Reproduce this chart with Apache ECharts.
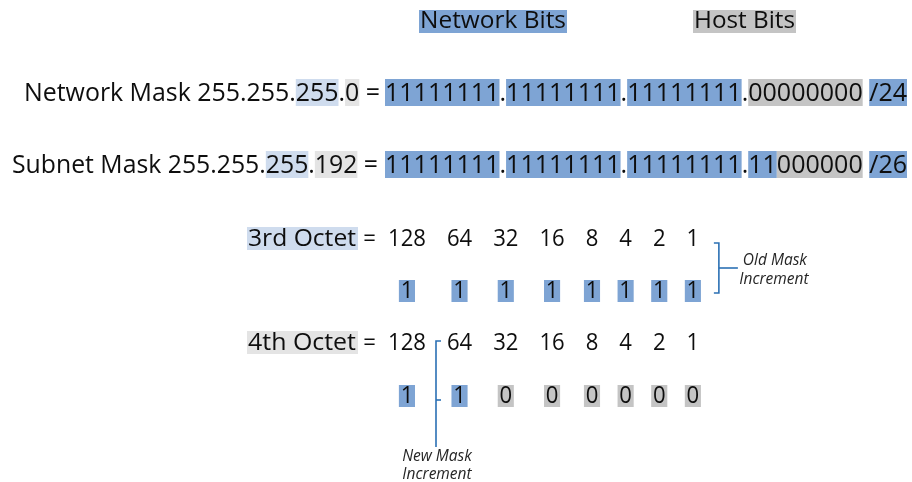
<!DOCTYPE html>
<html><head><meta charset="utf-8">
<script src="https://cdn.jsdelivr.net/npm/echarts@6/dist/echarts.min.js"></script>
<style>html,body{margin:0;padding:0;background:#fff}#c{width:912px;height:482px}</style>
</head><body><div id="c"></div>
<script>
// ---- data ----
const legendLabels = ['Network Bits', 'Host Bits'];
const maskNames = ['Network Mask', 'Subnet Mask'];
const networkMaskOctets = [255, 255, 255, 0];
const subnetMaskOctets = [255, 255, 255, 192];
const maskPrefixes = [24, 26];
const octetNames = ['3rd Octet', '4th Octet'];
const bitWeights = [128, 64, 32, 16, 8, 4, 2, 1];
const thirdOctetBits = [1, 1, 1, 1, 1, 1, 1, 1];
const fourthOctetBits = [1, 1, 0, 0, 0, 0, 0, 0];
const oldMaskNote = ['Old Mask', 'Increment'];
const newMaskNote = ['New Mask', 'Increment'];

// ---- styles ----
const C = {blue:'#7ea4d4', gray:'#c4c4c4', lblue:'#cfdcee', lgray:'#e4e4e4', ink:'#0e0e0e', line:'#2b70b4', note:'#262626'};
const FONT = '"Open Sans", "Noto Sans", sans-serif';
const ctx = document.createElement('canvas').getContext('2d');
function fontStr(size, st){ return (st ? st + ' ' : '') + size + 'px ' + FONT; }
function tw(t, size, st){ ctx.font = fontStr(size, st); return ctx.measureText(t).width; }

const els = [];
function addRect(x, y, w, h, fill){
  els.push({type:'rect', z:1, shape:{x:x, y:y, width:w, height:h}, style:{fill:fill}});
}
function addText(t, x, y, size, o){
  o = o || {};
  els.push({type:'text', z:2, x:x, y:y, scaleX:o.sx || 1,
    style:{text:t, font:fontStr(size, o.st), fill:o.fill || C.ink,
      textAlign:o.align || 'left', textVerticalAlign:'middle',
      align:o.align || 'left', verticalAlign:'middle'}});
}
function addLine(points, w){
  els.push({type:'polyline', z:3, shape:{points:points}, style:{stroke:C.line, lineWidth:w || 1.6, fill:null}});
}
// draw a row of segments fitted between x0 and x1
function drawSegs(segs, x0, x1, cy, size, boxUp, boxH){
  const ws = segs.map(s => tw(s.t, size));
  const W = ws.reduce((a, b) => a + b, 0);
  const s = (x1 - x0) / W;
  let cum = 0;
  segs.forEach((sg, i) => {
    const x = x0 + cum * s;
    if (sg.bg) addRect(x, cy - boxUp, ws[i] * s, boxH, sg.bg);
    addText(sg.t, x, cy, size, {sx:s});
    cum += ws[i];
  });
}
function maskLabelSegs(name, oct){
  return [{t:name + ' ' + oct[0] + '.' + oct[1] + '.'}, {t:String(oct[2]), bg:C.lblue},
          {t:'.'}, {t:String(oct[3]), bg:C.lgray}, {t:' ='}];
}
function binarySegs(oct, prefix){
  const segs = [];
  oct.forEach((o, k) => {
    if (k) segs.push({t:'.'});
    const bits = o.toString(2).padStart(8, '0');
    let run = '', runNet = null;
    for (let i = 0; i < 8; i++) {
      const net = (k * 8 + i) < prefix;
      if (runNet !== null && net !== runNet) { segs.push({t:run, bg:runNet ? C.blue : C.gray}); run = ''; }
      run += bits[i]; runNet = net;
    }
    segs.push({t:run, bg:runNet ? C.blue : C.gray});
  });
  segs.push({t:' '});
  segs.push({t:'/' + prefix, bg:C.blue});
  return segs;
}

// ---- legend (title row) ----
[[legendLabels[0], 419, 567, C.blue], [legendLabels[1], 693, 796, C.gray]].forEach(([t, a, b, bg]) => {
  addRect(a, 10, b - a, 23, bg);
  drawSegs([{t:t}], a + 1, b - 1, 21.5, 23, 0, 0);
});

// ---- mask rows ----
const maskRows = [
  {oct:networkMaskOctets, lx0:24, lx1:380, cy:94},
  {oct:subnetMaskOctets, lx0:12, lx1:378, cy:166}
];
maskRows.forEach((r, i) => {
  drawSegs(maskLabelSegs(maskNames[i], r.oct), r.lx0, r.lx1, r.cy, 26, 15, 27);
  drawSegs(binarySegs(r.oct, maskPrefixes[i]), 385, 907, r.cy, 26, 15, 27);
});

// ---- octet rows ----
const OS = 23.5, HS = 0.94, GAP = 21;
const colC = [], colW = [];
let xx = 388;
bitWeights.forEach(w => {
  const wd = tw(String(w), OS) * HS;
  colC.push(xx + wd / 2); colW.push(wd);
  xx += wd + GAP;
});
const octRows = [
  {name:octetNames[0], bg:C.lblue, bits:thirdOctetBits, cy:239, bcy:291},
  {name:octetNames[1], bg:C.lgray, bits:fourthOctetBits, cy:343, bcy:396}
];
octRows.forEach(r => {
  addRect(247, r.cy - 12, 111, 23, r.bg);
  drawSegs([{t:r.name}], 248, 356, r.cy, OS, 0, 0);
  addText('=', 369.5, r.cy, OS, {align:'center', sx:HS});
  bitWeights.forEach((w, i) => addText(String(w), colC[i], r.cy, OS, {align:'center', sx:HS}));
  r.bits.forEach((b, i) => {
    const t = String(b);
    const wd = tw(t, OS) * HS + 3.5;
    addRect(colC[i] - wd / 2, r.bcy - 11, wd, 22, b ? C.blue : C.gray);
    addText(t, colC[i], r.bcy, OS, {align:'center', sx:HS});
  });
});

// ---- brackets ----
const NS = 15.5;
const ox = colC[7] + 26;
addLine([[ox - 5, 243], [ox, 243], [ox, 293], [ox - 5, 293]]);
addLine([[ox, 268], [ox + 19, 268]]);
addText(oldMaskNote[0], ox + 56, 261, NS, {align:'center', st:'italic', fill:C.note});
addText(oldMaskNote[1], ox + 55, 280, NS, {align:'center', st:'italic', fill:C.note});

const nx = Math.round(((colC[0] + colW[0] / 2) + (colC[1] - colW[1] / 2)) / 2);
addLine([[nx + 5, 341], [nx, 341], [nx, 447]]);
addLine([[nx, 400], [nx + 5, 400]]);
addText(newMaskNote[0], nx + 1, 457, NS, {align:'center', st:'italic', fill:C.note});
addText(newMaskNote[1], nx + 1, 475, NS, {align:'center', st:'italic', fill:C.note});

const chart = echarts.init(document.getElementById('c'), null, {renderer:'canvas'});
chart.setOption({backgroundColor:'#ffffff', animation:false, graphic:{elements:els}});
</script>
</body></html>
